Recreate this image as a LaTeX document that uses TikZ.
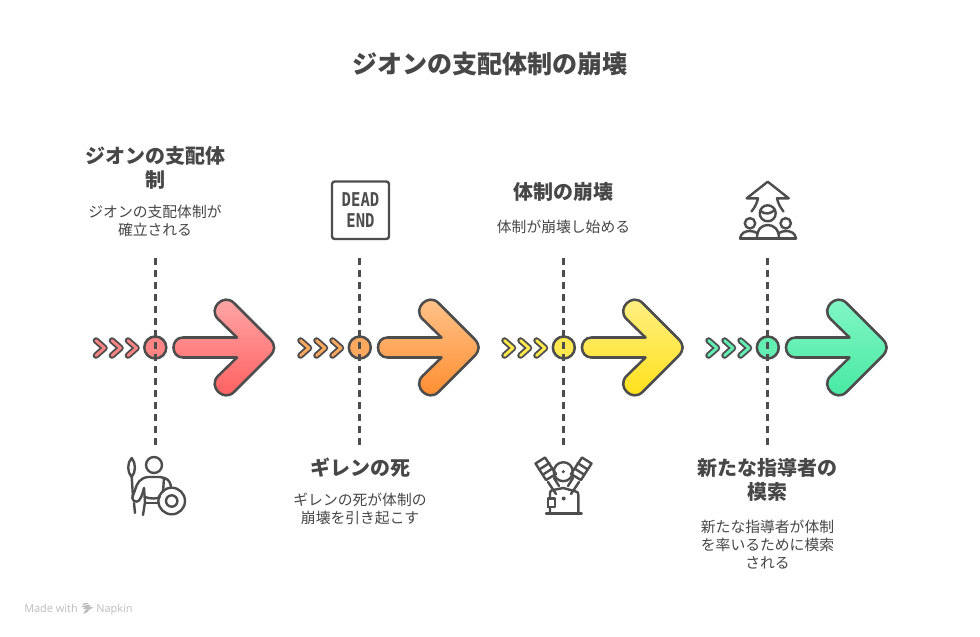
\documentclass[tikz,border=0pt]{standalone}
\usepackage{fontspec}
\setmainfont{Noto Sans CJK JP}
\newfontfamily\latinf{Open Sans}
\newfontfamily\monof{DejaVu Sans Mono}
\usetikzlibrary{calc}
\definecolor{ink}{HTML}{4D4D4D}
\definecolor{txt}{HTML}{474747}
\definecolor{wm}{HTML}{BDBDBD}
\definecolor{rT}{HTML}{FFAAAA}\definecolor{rB}{HTML}{FF5C5C}\definecolor{rM}{HTML}{FF8585}
\definecolor{oT}{HTML}{FFC68F}\definecolor{oB}{HTML}{FF8A2B}\definecolor{oM}{HTML}{FFA95E}
\definecolor{yT}{HTML}{FFF08A}\definecolor{yB}{HTML}{FFE014}\definecolor{yM}{HTML}{FFE94F}
\definecolor{gT}{HTML}{85F7C8}\definecolor{gB}{HTML}{45E8A0}\definecolor{gM}{HTML}{63EFB4}
\tikzset{
  x=0.75pt,y=-0.75pt,
  ln/.style={draw=ink,line width=1.9pt,line join=round,line cap=round},
  icon/.style={draw=ink,line width=1.8pt,line join=round,line cap=round},
  ttl/.style={font=\fontsize{18.8}{24}\selectfont\bfseries,text=txt,align=center,inner sep=0pt},
  hd/.style={font=\fontsize{15}{18}\selectfont\bfseries,text=txt,align=center,inner sep=0pt},
  bd/.style={font=\fontsize{11.1}{13.5}\selectfont,text=txt,align=center,inner sep=0pt},
  drop/.style={draw=ink,line width=2.1pt,dash pattern=on 5.25pt off 3.75pt},
}
% #1 dx, #2 top, #3 bottom, #4 mid, #5 name
\newcommand{\stage}[5]{%
\begin{scope}[shift={(#1,0)}]
  \foreach \d in {0,16,32}{
    \draw[draw=ink,line width=4.9pt,line cap=round,line join=round] (96+\d,340.5)--(104.5+\d,348)--(96+\d,355.5);
    \draw[draw=#4,line width=2.1pt,line cap=round,line join=round] (96+\d,340.5)--(104.5+\d,348)--(96+\d,355.5);
  }
  \node[circle,ln,fill=#4,minimum size=16.5pt,inner sep=0pt] (dot#5) at (155.3,347.5) {};
  \coordinate (up#5) at (155.3,258);
  \coordinate (dn#5) at (155.3,445);
  \draw[drop] (up#5) -- (dn#5);
  \path[ln,top color=#2,bottom color=#3]
    (183,337.5) -- (237,337.5) -- (218,319)
    .. controls (207.6,308.6) and (223.6,292.6) .. (234,303)
    -- (270,339) .. controls (275.5,345) and (275.5,350) .. (270,356)
    -- (234,392) .. controls (223.6,402.4) and (207.6,386.4) .. (218,376)
    -- (237,357.5) -- (183,357.5) .. controls (170.3,357.5) and (170.3,337.5) .. (183,337.5) -- cycle;
\end{scope}}
\begin{document}
\begin{tikzpicture}
\useasboundingbox (0,0) rectangle (980,636);
\fill[white] (0,0) rectangle (980,636);
\node[ttl] (title) at (490,64) {ジオンの支配体制の崩壊};

\stage{0}{rT}{rB}{rM}{a}
\stage{204.5}{oT}{oB}{oM}{b}
\stage{408.5}{yT}{yB}{yM}{c}
\stage{612.5}{gT}{gB}{gM}{d}

\node[hd] (h1) at (155,168) {ジオンの支配体\\制};
\node[bd] (b1) at (155,221) {ジオンの支配体制が\\確立される};
\node[hd] (h2) at (360,468) {ギレンの死};
\node[bd] (b2) at (360,509) {ギレンの死が体制の\\崩壊を引き起こす};
\node[hd] (h3) at (563.5,192) {体制の崩壊};
\node[bd] (b3) at (563.5,227) {体制が崩壊し始める};
\node[hd] (h4) at (767.5,480) {新たな指導者の\\模索};
\node[bd] (b4) at (767.5,545) {新たな指導者が体制\\を率いるために模索\\される};

% warrior icon
\draw[icon] (154,465) circle[radius=8];
\draw[icon] (131.7,458) .. controls (127,463) and (127,472) .. (131.7,477) .. controls (136,472) and (136,463) .. (131.7,458) -- cycle;
\draw[icon] (131.7,477) -- (133,497) (134,503) -- (135,513);
\draw[icon] (148,477) .. controls (140,478) and (137,483) .. (135,490) .. controls (134,495) and (130,497) .. (134,501) .. controls (138,503) and (140,500) .. (142,495) -- (144,488);
\draw[icon] (144,488) -- (145,502) -- (143,515);
\draw[icon] (148,477) -- (160,477) .. controls (167,478) and (170,480) .. (171,487);
\draw[icon] (164,478) -- (163,492);
\draw[icon] (145,497) .. controls (150,499) and (157,499) .. (160,497);
\draw[icon] (145,503) -- (158,503);
\draw[icon] (171.7,501) circle[radius=13.3];
\draw[icon] (171.7,501) circle[radius=5.7];

% dead end icon
\draw[icon,rounded corners=2pt] (332,181.5) rectangle (389,239);
\node[text=ink,align=center,inner sep=0pt,font=\monof\bfseries\fontsize{13}{14.3}\selectfont,yscale=1.1,xscale=.9] (deadend) at (360.5,210.5) {DEAD\\END};

% engine icon
\draw[icon] (563.3,471.7) circle[radius=9.5];
\fill[ink] (563.3,471.7) circle[radius=1.7];
\draw[icon] (535.5,463.5) -- (545,457.5) -- (556,474) -- (546,480) -- cycle;
\draw[icon] (540,469) -- (549.5,463) (543,474.5) -- (552.5,468.5);
\draw[icon] (548,482) -- (556,494) (554,478) -- (559,486);
\draw[icon] (591.5,463.5) -- (582,457.5) -- (571,474) -- (581,480) -- cycle;
\draw[icon] (587,469) -- (577.5,463) (584,474.5) -- (574.5,468.5);
\draw[icon] (579,482) -- (571,494) (573,478) -- (568,486);
\draw[icon] (546,513.3) -- (581.7,513.3);
\draw[icon] (550,513.3) -- (550,493) .. controls (550,491) and (551,490.5) .. (553,490) -- (563.3,488) -- (576,491.5) .. controls (578,492) and (578.3,493) .. (578.3,495) -- (578.3,513.3);
\fill[ink] (563.7,498.5) circle[radius=2];
\path[icon,fill=white] (548,498.5) rectangle (555,507);
\fill[ink] (547,497.5) rectangle (549,508);

% people icon
\draw[icon] (751.5,211.5) .. controls (755,207) and (757,203) .. (758,198.3) -- (746.7,198.3) -- (767.7,181.7) -- (788.7,198.3) -- (777,198.3) .. controls (778,203) and (780,207) .. (783.5,211.5);
\draw[icon] (767.7,213.3) circle[radius=8];
\draw[icon] (760.5,211) .. controls (765,215) and (771,214) .. (775,209.5);
\draw[icon] (750,223.3) circle[radius=5.2];
\draw[icon] (785.7,223.3) circle[radius=5.2];
\draw[icon] (740,238.3) -- (796,238.3);
\draw[icon] (757,238.3) .. controls (757,229) and (762,225) .. (767.7,225) .. controls (773.5,225) and (779,229) .. (779,238.3);
\draw[icon] (740,238.3) .. controls (741,233) and (745,231) .. (750,231) .. controls (753,231) and (755,232) .. (757,233);
\draw[icon] (796,238.3) .. controls (795,233) and (791,231) .. (786,231) .. controls (783,231) and (781,232) .. (779,233);

% watermark
\node[anchor=base west,inner sep=0pt,text=wm,font=\latinf\fontsize{8.2}{10}\selectfont] (madewith) at (24,612) {Made with};
\draw[wm,line width=1pt,line cap=round,line join=round] (83,604) -- (88,603.5) (82,606.5) -- (90,605.5) -- (84,608.5) -- (92,607.5) -- (85,611) (84,613) -- (88,611);
\node[anchor=base west,inner sep=0pt,text=wm,font=\latinf\fontsize{8.2}{10}\selectfont] (napkin) at (96,612) {Napkin};
\end{tikzpicture}
\end{document}
